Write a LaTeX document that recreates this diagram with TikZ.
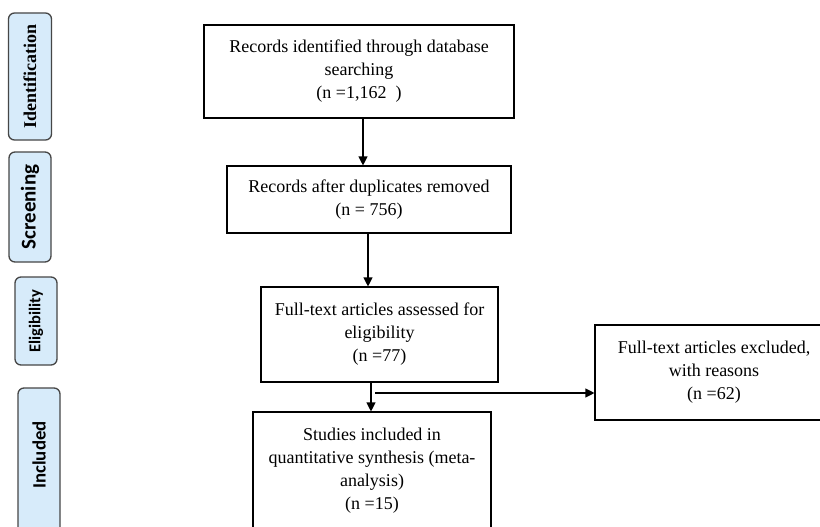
\documentclass[tikz,border=0pt]{standalone}
\usepackage{fontspec}
\setmainfont{Liberation Serif}
\newfontfamily\calib{Carlito}
\usetikzlibrary{arrows.meta}
\definecolor{sidefill}{RGB}{215,235,250}
\definecolor{sidedraw}{RGB}{70,70,70}
\begin{document}
\begin{tikzpicture}[x=1pt,y=-1pt,
  box/.style={draw=black, line width=1.1pt, fill=white, inner sep=0pt, align=center,
    font=\fontsize{18}{23}\selectfont},
  arr/.style={-{Triangle[length=9pt,width=9pt]}, line width=1.1pt},
  side/.style={draw=sidedraw, fill=sidefill, rounded corners=6pt, line width=1.3pt,
    inner sep=0pt, rotate=90, align=center}]
\clip (0,0) rectangle (820,527);
\fill[white] (0,0) rectangle (820,527);

% phase labels
\node[side, minimum width=127pt, minimum height=43pt, font=\bfseries\fontsize{18}{21}\selectfont]
  (idl) at (30,76.5) {Identification};
\node[side, minimum width=110pt, minimum height=42pt, font=\calib\bfseries\fontsize{21}{24}\selectfont]
  (scl) at (30,207) {Screening};
\node[side, minimum width=88pt, minimum height=42pt, font=\calib\bfseries\fontsize{16.5}{20}\selectfont]
  (ell) at (36,321) {Eligibility};
\node[side, minimum width=164pt, minimum height=42pt] (inb) at (39,470) {};
\node[rotate=90, inner sep=0pt, font=\calib\bfseries\fontsize{18.8}{22}\selectfont]
  (inl) at (39,455) {Included};

% main boxes
\node[box, minimum width=310pt, minimum height=93pt] (b1) at (359,71.5)
  {Records identified through database\\searching\\(n =1,162\ \ )};
\node[box, minimum width=284pt, minimum height=67pt] (b2) at (369,199.5)
  {Records after duplicates removed\\(n = 756)};
\node[box, minimum width=237pt, minimum height=95pt] (b3) at (379.5,334.5)
  {Full-text articles assessed for\\eligibility\\(n =77)};
\node[box, minimum width=238pt, minimum height=118pt] (b4) at (372,471)
  {Studies included in\\quantitative synthesis (meta-\\analysis)\\(n =15)};
\node[box, minimum width=238pt, minimum height=95pt] (b5) at (714,372.5)
  {Full-text articles excluded,\\with reasons\\(n =62)};

% connectors
\draw[arr] ([xshift=4pt]b1.south) -- ([xshift=4pt]b1.south |- b2.north);
\draw[arr] ([xshift=-1pt]b2.south) -- ([xshift=-1pt]b2.south |- b3.north);
\draw[arr] ([xshift=-8.5pt]b3.south) -- ([xshift=-8.5pt]b3.south |- b4.north);
\coordinate (hs) at (375,393);
\draw[arr] (hs) -- (b5.west |- hs);
\end{tikzpicture}
\end{document}
